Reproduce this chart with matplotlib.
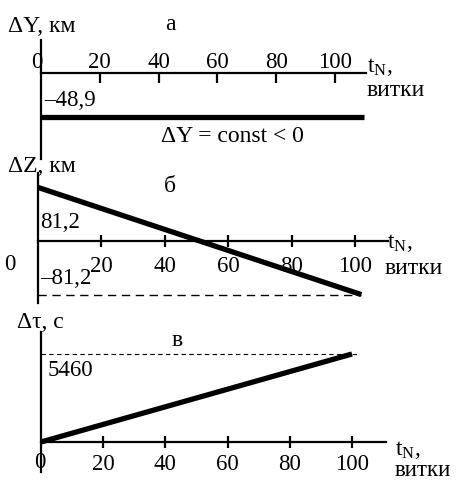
import matplotlib
matplotlib.use('Agg')
import matplotlib.pyplot as plt

plt.rcParams['font.family'] = ['Liberation Serif', 'DejaVu Serif']
plt.rcParams['mathtext.fontset'] = 'custom'
plt.rcParams['mathtext.rm'] = 'Liberation Serif'
plt.rcParams['mathtext.it'] = 'Liberation Serif:italic'

# ---- data ----
ticks = [20, 40, 60, 80, 100]
tick_labels = ['20', '40', '60', '80', '100']

t_a = [0, 110]
dY = [-48.9, -48.9]

t_b = [0, 102]
dZ = [81.2, -81.2]
dZ_min = -81.2

t_c = [0, 100]
dtau = [0, 5460]
dtau_max = 5460

W, H = 458, 480
FS = 17
TFS = 16.5
fig = plt.figure(figsize=(W / 100, H / 100), dpi=100)


def make_ax(band_top, band_bot, x0px, sx, y0px, sy):
    ax = fig.add_axes([0, 1 - band_bot / H, 1, (band_bot - band_top) / H])
    ax.set_xlim(-x0px / sx, (W - x0px) / sx)
    ax.set_ylim(-(band_bot - y0px) / sy, (y0px - band_top) / sy)
    ax.patch.set_visible(False)
    for s in ax.spines.values():
        s.set_visible(False)
    ax.set_yticks([])
    return ax


def ftext(x, y, s, **kw):
    kw.setdefault('fontsize', FS)
    fig.text(x / W, 1 - y / H, s, **kw)


# ---- panel a ----
axa = make_ax(0, 160, 41, 2.94, 73, 0.9)
axa.spines['left'].set_visible(True)
axa.spines['left'].set_position(('data', 0))
axa.spines['left'].set_bounds(-96, 36.7)
axa.spines['left'].set_linewidth(1.6)
axa.spines['top'].set_visible(True)
axa.spines['top'].set_position(('data', 0))
axa.spines['top'].set_bounds(0, 110.5)
axa.spines['top'].set_linewidth(1.6)
axa.xaxis.tick_top()
axa.set_xticks(ticks)
axa.set_xticklabels(tick_labels)
axa.tick_params(axis='x', direction='in', length=7, width=1.6, pad=0, labelsize=TFS)
axa.plot(t_a, dY, color='black', lw=3.8, solid_capstyle='butt')

ftext(8, 26, 'ΔY, км', va='center', ha='left')
ftext(170, 25, 'а', va='center', ha='center')
ftext(37, 63, '0', va='center', ha='center', fontsize=TFS)
ftext(367, 67, 't$_\\mathrm{N}$,', va='center', ha='left')
ftext(367, 91, 'витки', va='center', ha='left')
ftext(44, 100, '–48,9', va='center', ha='left', fontsize=TFS)
ftext(232, 137, 'ΔY = const < 0', va='center', ha='center')

# ---- panel b ----
axb = make_ax(160, 310, 38, 3.17, 241, 0.66)
axb.spines['left'].set_visible(True)
axb.spines['left'].set_position(('data', 0))
axb.spines['left'].set_bounds(-94, 103)
axb.spines['left'].set_linewidth(1.6)
axb.spines['bottom'].set_visible(True)
axb.spines['bottom'].set_position(('data', 0))
axb.spines['bottom'].set_bounds(0, 110.4)
axb.spines['bottom'].set_linewidth(1.6)
axb.set_xticks(ticks)
axb.set_xticklabels(tick_labels)
axb.tick_params(axis='x', direction='inout', length=8, width=1.6, pad=7, labelsize=TFS)
axb.plot(t_b, dZ, color='black', lw=3.8, solid_capstyle='butt')
axb.plot([0, t_b[-1]], [dZ_min, dZ_min], color='black', lw=1.0, ls=(0, (6, 4)))

ftext(8, 167, 'ΔZ, км', va='center', ha='left')
ftext(170, 186, 'б', va='center', ha='center')
ftext(40, 222, '81,2', va='center', ha='left', fontsize=TFS)
ftext(10, 264, '0', va='center', ha='center', fontsize=TFS)
ftext(387, 243, 't$_\\mathrm{N}$,', va='center', ha='left')
ftext(385, 268, 'витки', va='center', ha='left')
ftext(40, 278, '–81,2', va='center', ha='left', fontsize=TFS)

# ---- panel c ----
axc = make_ax(310, 480, 41, 3.11, 442, 0.01612)
axc.spines['left'].set_visible(True)
axc.spines['left'].set_position(('data', 0))
axc.spines['left'].set_bounds(-1861, 6824)
axc.spines['left'].set_linewidth(1.6)
axc.spines['bottom'].set_visible(True)
axc.spines['bottom'].set_position(('data', 0))
axc.spines['bottom'].set_bounds(0, 111)
axc.spines['bottom'].set_linewidth(1.6)
axc.set_xticks(ticks)
axc.set_xticklabels(tick_labels)
axc.tick_params(axis='x', direction='inout', length=9, width=1.6, pad=4, labelsize=TFS)
axc.plot(t_c, dtau, color='black', lw=3.8, solid_capstyle='butt')
axc.plot([0, 102], [dtau_max, dtau_max], color='black', lw=0.8, ls=(0, (4, 3)))

ftext(17, 322, 'Δτ, с', va='center', ha='left')
ftext(177, 340, 'в', va='center', ha='center')
ftext(48, 371, '5460', va='center', ha='left', fontsize=TFS)
ftext(40, 462, '0', va='center', ha='center', fontsize=TFS)
ftext(395, 450, 't$_\\mathrm{N}$,', va='center', ha='left')
ftext(395, 470, 'витки', va='center', ha='left', fontsize=16.5)

fig.savefig('out.png', dpi=100)
